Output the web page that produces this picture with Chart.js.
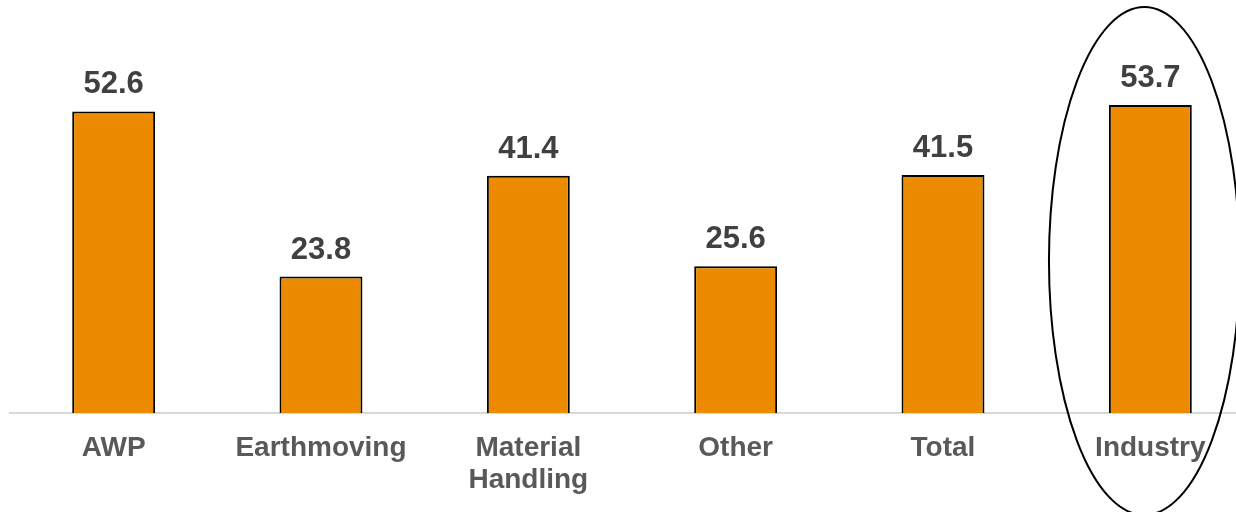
<!DOCTYPE html>
<html>
<head>
<meta charset="utf-8">
<script src="https://cdn.jsdelivr.net/npm/chart.js@4.4.1/dist/chart.umd.min.js"></script>
<style>
  html,body{margin:0;padding:0;background:#fff;overflow:hidden;}
  /* plot runs past the right edge of the window, as in the reference */
  #wrap{width:1254px;height:512px;position:relative;}
</style>
</head>
<body>
<div id="wrap"><canvas id="c"></canvas></div>
<script>
// data
const categories=['AWP','Earthmoving',['Material','Handling'],'Other','Total','Industry'];
const values=[52.6,23.8,41.4,25.6,41.5,53.7];
const highlightIndex=5; // circled bar

const FONT='"Liberation Sans", Arial, sans-serif';

const valueLabels={
  id:'valueLabels',
  afterDatasetsDraw(chart){
    const ctx=chart.ctx;
    const meta=chart.getDatasetMeta(0);
    ctx.save();
    ctx.fillStyle='#404040';
    ctx.font='bold 31px '+FONT;
    ctx.textAlign='center';
    ctx.textBaseline='alphabetic';
    meta.data.forEach((bar,i)=>{
      ctx.fillText(values[i].toFixed(1),bar.x,bar.y-18);
    });
    ctx.restore();
  }
};

const ring={
  id:'ring',
  afterDraw(chart){
    const x=chart.scales.x, ctx=chart.ctx;
    const step=x.getPixelForValue(1)-x.getPixelForValue(0);
    const cx=x.getPixelForValue(highlightIndex)-6;
    ctx.save();
    ctx.strokeStyle='#000'; ctx.lineWidth=2;
    ctx.beginPath();
    ctx.ellipse(cx,261,step*0.46,254,0,0,Math.PI*2);
    ctx.stroke();
    ctx.restore();
  }
};

new Chart(document.getElementById('c'),{
  type:'bar',
  data:{labels:categories,datasets:[{
    data:values,
    backgroundColor:'#ed8b00',
    borderColor:'#000',
    borderWidth:2,
    borderSkipped:'start',
    barPercentage:0.4,
    categoryPercentage:1,
    clip:false
  }]},
  options:{
    responsive:true,maintainAspectRatio:false,animation:false,
    layout:{padding:{top:69,left:10,right:0,bottom:0}},
    plugins:{legend:{display:false},tooltip:{enabled:false}},
    scales:{
      x:{
        grid:{display:false},
        border:{display:true,color:'#d9d9d9',width:2},
        ticks:{color:'#595959',font:{family:FONT,size:28,weight:'bold',lineHeight:1.15},
               padding:11,maxRotation:0,autoSkip:false},
        afterFit(s){ s.height=99; }
      },
      y:{display:false,min:0,max:60}
    }
  },
  plugins:[valueLabels,ring]
});
</script>
</body>
</html>
